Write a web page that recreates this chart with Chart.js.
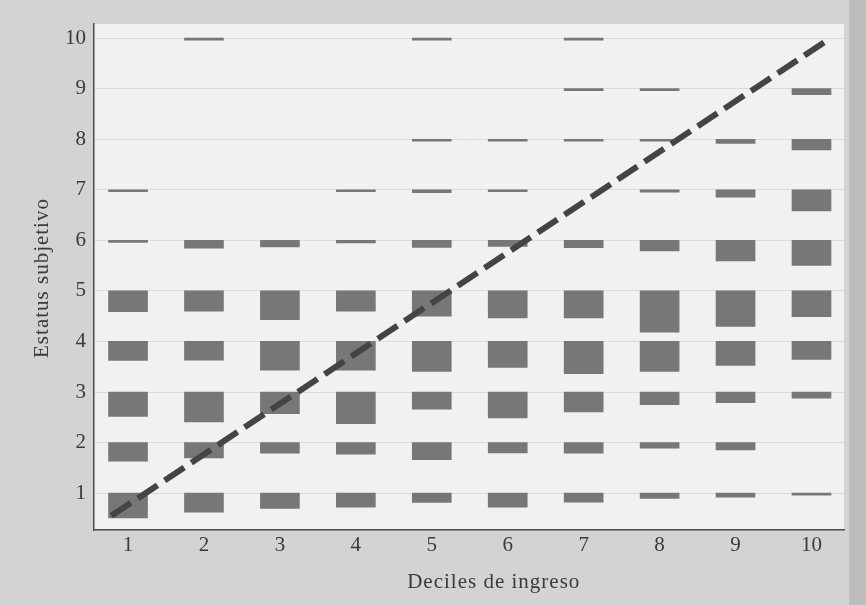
<!DOCTYPE html>
<html>
<head>
<meta charset="utf-8">
<script src="https://cdn.jsdelivr.net/npm/chart.js@4.4.1/dist/chart.umd.min.js"></script>
<style>
  html, body { margin: 0; padding: 0; background: #d3d3d3; }
  #wrap { width: 866px; height: 605px; position: relative; }
</style>
</head>
<body>
<div id="wrap"><canvas id="c"></canvas></div>
<script>
// ---- Data ----
const deciles = [1, 2, 3, 4, 5, 6, 7, 8, 9, 10];
const statusLevels = [1, 2, 3, 4, 5, 6, 7, 8, 9, 10];
// share of households (%) in each decile reporting each subjective status
const status1  = [22.5, 17.3, 13.9, 12.7, 8.5, 12.7, 8.2, 4.8, 3.6, 1.8];
const status2  = [17.0, 13.9, 9.7, 10.6, 15.5, 9.4, 9.7, 5.2, 6.8, 0];
const status3  = [22.1, 27.3, 19.7, 28.8, 15.7, 23.6, 18.2, 11.5, 9.7, 5.7];
const status4  = [17.3, 17.0, 26.1, 26.1, 27.3, 23.6, 29.4, 27.3, 21.8, 16.4];
const status5  = [18.8, 18.5, 26.1, 18.5, 23.0, 24.5, 24.5, 37.5, 32.3, 23.4];
const status6  = [1.8, 7.0, 5.9, 2.3, 6.4, 5.5, 6.6, 9.7, 18.8, 22.7];
const status7  = [1.8, 0, 0, 1.8, 2.5, 1.8, 0, 2.1, 6.6, 19.1];
const status8  = [0, 0, 0, 0, 1.8, 1.8, 1.8, 1.8, 3.9, 9.7];
const status9  = [0, 0, 0, 0, 0, 0, 1.8, 1.8, 0, 5.5];
const status10 = [0, 1.8, 0, 0, 1.8, 0, 1.8, 0, 0, 0];
const shares = [status1, status2, status3, status4, status5, status6, status7, status8, status9, status10];
const xTickValues = [1, 2, 3, 4, 5, 6, 7, 8, 9, 10];
const yTickValues = [1, 2, 3, 4, 5, 6, 7, 8, 9, 10];
// 45-degree reference line (dashed)
const refLineX = [0.78, 10.2];
const refLineY = [0.55, 9.95];
const xTitle = 'Deciles de ingreso';
const yTitle = 'Estatus subjetivo';

// ---- Build datasets ----
const SHARE_TO_UNITS = 1.1 / 50.55; // bar height in status units per percentage point
const barDatasets = statusLevels.map((lvl, i) => ({
  type: 'bar',
  label: 'Estatus ' + lvl,
  data: deciles
    .map((d, j) => ({ d, v: shares[i][j] }))
    .filter(p => p.v > 0)
    .map(p => ({ x: p.d, y: [lvl - p.v * SHARE_TO_UNITS, lvl] })),
  backgroundColor: '#777777',
  borderWidth: 0,
  barThickness: 39,
  grouped: false,
  order: 2
}));
const lineDataset = {
  type: 'line',
  label: 'Referencia',
  data: refLineX.map((x, i) => ({ x, y: refLineY[i] })),
  borderColor: '#444444',
  borderWidth: 6,
  borderDash: [23.5, 8.5],
  borderCapStyle: 'butt',
  pointRadius: 0,
  fill: false,
  order: 0
};

const bgPlugin = {
  id: 'bg',
  beforeDraw(chart) {
    const { ctx, chartArea: a } = chart;
    ctx.save();
    ctx.fillStyle = '#d3d3d3';
    ctx.fillRect(0, 0, chart.width, chart.height);
    ctx.fillStyle = '#bdbdbd';
    ctx.fillRect(849, 0, chart.width - 849, chart.height);
    ctx.fillStyle = '#f1f1f1';
    ctx.fillRect(a.left, a.top, a.right - a.left, a.bottom - a.top);
    ctx.restore();
  },
  afterDraw(chart) {
    const { ctx, chartArea: a } = chart;
    ctx.save();
    ctx.fillStyle = '#3a3a3a';
    ctx.font = '21px "Liberation Serif", serif';
    ctx.letterSpacing = '1px';
    ctx.textAlign = 'center';
    ctx.textBaseline = 'middle';
    ctx.fillText(xTitle, a.left + (a.right - a.left) * 0.533, 582);
    ctx.translate(42, (a.top + a.bottom) / 2 + 1);
    ctx.rotate(-Math.PI / 2);
    ctx.fillText(yTitle, 0, 0);
    ctx.restore();
  }
};

Chart.defaults.font.family = '"Liberation Serif", serif';
Chart.defaults.font.size = 21;
Chart.defaults.color = '#3a3a3a';

new Chart(document.getElementById('c'), {
  type: 'bar',
  data: { datasets: [lineDataset, ...barDatasets] },
  options: {
    responsive: true,
    maintainAspectRatio: false,
    animation: false,
    layout: { padding: { left: 0, right: 22, top: 24, bottom: 0 } },
    plugins: { legend: { display: false }, tooltip: { enabled: false } },
    scales: {
      x: {
        type: 'linear',
        min: 0.552,
        max: 10.428,
        offset: false,
        grid: { display: false, drawTicks: false },
        border: { display: true, color: '#4d4d4d', width: 1.5 },
        ticks: { padding: 3, font: { size: 21 }, color: '#3a3a3a' },
        afterBuildTicks: s => { s.ticks = xTickValues.map(v => ({ value: v })); },
        afterFit: s => { s.height = 75; }
      },
      y: {
        type: 'linear',
        min: 0.27,
        max: 10.28,
        grid: { display: true, color: '#dbdbdb', lineWidth: 1, drawTicks: false },
        border: { display: true, color: '#4d4d4d', width: 1.5 },
        ticks: { padding: 8, font: { size: 21 }, color: '#3a3a3a' },
        afterBuildTicks: s => { s.ticks = yTickValues.map(v => ({ value: v })); },
        afterFit: s => { s.width = 94; }
      }
    }
  },
  plugins: [bgPlugin]
});
</script>
</body>
</html>
